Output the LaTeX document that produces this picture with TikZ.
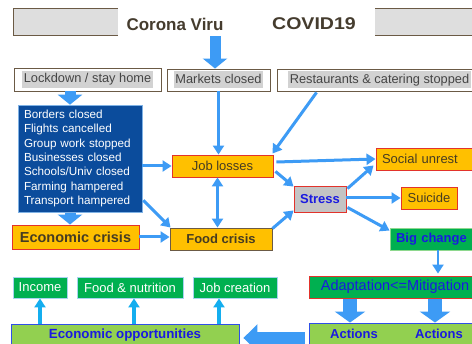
\documentclass[tikz,border=0pt]{standalone}
\usepackage{fontspec}
\setmainfont{Liberation Sans}
\usetikzlibrary{arrows.meta,calc}
\definecolor{arrowblue}{HTML}{3D9BF5}
\definecolor{upblue}{HTML}{14AEEF}
\definecolor{orangef}{HTML}{FFC000}
\definecolor{redb}{HTML}{E2332B}
\definecolor{brownb}{HTML}{6B5A45}
\definecolor{titlegray}{HTML}{DEDEDE}
\definecolor{hlgray}{HTML}{D2D2D2}
\definecolor{rowtxt}{HTML}{454545}
\definecolor{darktxt}{HTML}{463C22}
\definecolor{darkblue}{HTML}{0B4C9C}
\definecolor{blueedge}{HTML}{7FB2E5}
\definecolor{greenf}{HTML}{00B050}
\definecolor{greenedge}{HTML}{8ED88E}
\definecolor{lightgreen}{HTML}{92D050}
\definecolor{oppedge}{HTML}{2F4FE8}
\definecolor{txtblue}{HTML}{1A1AE0}
\definecolor{gboxedge}{HTML}{A7D3F0}
\definecolor{stressgray}{HTML}{C4C4C4}
\definecolor{titletxt}{HTML}{453C2E}
\newcommand{\myhl}[1]{{\setlength{\fboxsep}{1.5pt}\colorbox{hlgray}{\rule[-3.6pt]{0pt}{14pt}#1}}}
\tikzset{
  box/.style={draw, rectangle, inner sep=0pt, line width=0.9pt},
  rowbox/.style={box, draw=brownb, fill=white, text=rowtxt, font=\fontsize{12.8}{14}\selectfont},
  orbox/.style={box, draw=redb, fill=orangef, text=darktxt, font=\fontsize{13}{15}\selectfont},
  grbox/.style={box, draw=gboxedge, fill=greenf, text=white, font=\fontsize{13}{15}\selectfont},
  oppbox/.style={box, draw=oppedge, fill=lightgreen, text=txtblue, font=\bfseries\fontsize{13.3}{15}\selectfont},
  titletext/.style={text=titletxt, font=\bfseries\fontsize{17}{20}\selectfont},
  conn/.style={draw=arrowblue, line width=3pt, -{Triangle[length=9pt,width=11pt]}},
  connboth/.style={draw=arrowblue, line width=3pt, {Triangle[length=9pt,width=11pt]}-{Triangle[length=9pt,width=11pt]}},
  upconn/.style={draw=upblue, line width=3.2pt, -{Triangle[length=9pt,width=11pt]}},
  blockarr/.style={draw=arrowblue, line width=11pt, -{Triangle[length=10pt,width=24pt]}},
  bigblockarr/.style={draw=arrowblue, line width=14pt, -{Triangle[length=11pt,width=30pt]}},
}
\begin{document}
\begin{tikzpicture}[x=1pt,y=-1pt]
\useasboundingbox (0,0) rectangle (472,344);
\clip (0,0) rectangle (472,344);
\fill[white] (0,0) rectangle (472,344);

% title
\node[box, draw=brownb, fill=titlegray, minimum width=469pt, minimum height=27pt] (titlebox) at (247.5,21.5) {};
\node[fill=white, minimum width=257pt, minimum height=33pt, inner sep=0pt] (titlemask) at (246.5,21.5) {};
\node[titletext] (t1) at (175,24) {Corona Viru};
\node[titletext, xscale=1.15] (t2) at (314,24) {COVID19};

% row 2
\node[rowbox, minimum width=147pt, minimum height=23pt] (lock) at (87.5,79.5) {\myhl{Lockdown / stay home}};
\node[rowbox, minimum width=103pt, minimum height=22pt] (markets) at (218.5,80) {\myhl{Markets closed}};
\node[rowbox, minimum width=205pt, minimum height=22pt] (rest) at (379.5,80) {\myhl{Restaurants \& catering stopped}};

% blue block
\node[box, draw=blueedge, line width=0.6pt, fill=darkblue, text=white, minimum width=124pt, minimum height=107pt, text width=112pt, inner xsep=6pt, align=left, font=\fontsize{11.7}{14.3}\selectfont] (blue) at (80,158.5)
{Borders closed\\Flights cancelled\\Group work stopped\\Businesses closed\\Schools/Univ closed\\Farming hampered\\Transport hampered};

% crises
\node[orbox, font=\bfseries\fontsize{14.5}{16}\selectfont, minimum width=127pt, minimum height=24pt] (econ) at (75.5,237) {Economic crisis};
\node[orbox, draw=brownb, font=\bfseries\fontsize{13}{15}\selectfont, minimum width=102pt, minimum height=22pt] (food) at (221,239) {Food crisis};
\node[orbox, minimum width=101pt, minimum height=22pt] (jobloss) at (222.5,166) {Job losses};
\node[box, draw=redb, fill=stressgray, text=txtblue, font=\bfseries\fontsize{13}{15}\selectfont, minimum width=52pt, minimum height=26pt] (stress) at (320,199) {Stress};
\node[orbox, minimum width=106pt, minimum height=22pt, text width=94pt, inner xsep=6pt, align=left] (social) at (429,159) {Social unrest};
\node[orbox, minimum width=56pt, minimum height=22pt] (suicide) at (429,198) {Suicide};
\node[box, draw=greenedge, fill=greenf, text=txtblue, font=\bfseries\fontsize{13}{15}\selectfont, minimum width=92pt, minimum height=22pt, text width=80pt, inner xsep=6pt, align=left] (big) at (436,239) {Big change};

% adaptation and actions
\node[box, draw=redb, fill=greenf, text=txtblue, font=\fontsize{14.5}{16}\selectfont, minimum width=172pt, minimum height=22pt] (adapt) at (395,287) {Adaptation<=Mitigation};
\node[oppbox, minimum width=173pt, minimum height=27pt] (actions) at (395.5,336.5) {};
\node[text=txtblue, font=\bfseries\fontsize{13}{15}\selectfont] (act1) at (354,334) {Actions};
\node[text=txtblue, font=\bfseries\fontsize{13}{15}\selectfont] (act2) at (439,334) {Actions};

% opportunities
\node[oppbox, minimum width=228pt, minimum height=26pt] (econopp) at (125,337) {};
\node[text=txtblue, font=\bfseries\fontsize{13.3}{15}\selectfont] (opptxt) at (125,335) {Economic opportunities};
\node[grbox, minimum width=54pt, minimum height=21pt] (income) at (40,287.5) {Income};
\node[grbox, minimum width=106pt, minimum height=21pt] (foodn) at (130,287.5) {Food \& nutrition};
\node[grbox, minimum width=84pt, minimum height=21pt] (jobc) at (235,287.5) {Job creation};

% block arrows
\coordinate (bx) at (70,0);
\coordinate (ax1) at (350,0);
\coordinate (ax2) at (435,0);
\coordinate (tx) at (215,0);
\draw[blockarr] ($(titlebox.south -| tx)+(0,1)$) -- (markets.north -| tx);
\draw[blockarr] (lock.south -| bx) -- (blue.north -| bx);
\draw[blockarr] ($(blue.south -| bx)+(0,1)$) -- (econ.north -| bx);
\draw[bigblockarr] ($(adapt.south -| ax1)+(0,1)$) -- (actions.north -| ax1);
\draw[bigblockarr] ($(adapt.south -| ax2)+(0,1)$) -- (actions.north -| ax2);
\coordinate (ay) at (0,338);
\draw[draw=arrowblue, line width=12pt, -{Triangle[length=14pt,width=27pt]}] ($(actions.west |- ay)+(-4,0)$) -- ($(econopp.east |- ay)+(4,0)$);

% connectors
\draw[conn] (markets.south) -- (markets.south |- jobloss.north);
\draw[conn] ($(rest.south west)+(40,1)$) -- ($(jobloss.north east)+(-1,-1)$);
\draw[conn] (blue.east |- jobloss) -- (jobloss.west);
\draw[conn] ($(blue.south east)+(1,-12)$) -- ($(food.north west)+(1,0)$);
\draw[conn] (econ.east) -- (econ.east -| food.west);
\draw[connboth] ($(jobloss.south)+(-5,0)$) -- ($(jobloss.south |- food.north)+(-5,0)$);
\draw[conn] ($(jobloss.south east)+(2,-6)$) -- ($(stress.north west)+(0,1)$);
\draw[conn] ($(food.north east)+(0,1)$) -- ($(stress.south west)+(0,-2)$);
\draw[conn] ($(jobloss.east)+(3,-4)$) -- (social.west);
\draw[conn] ($(stress.north east)+(1,3)$) -- ($(social.south west)+(-2,-5)$);
\draw[conn] (stress.east |- suicide) -- (suicide.west);
\draw[conn] ($(stress.south east)+(1,-5)$) -- ($(big.north west)+(0,3)$);
\draw[conn, line width=2.4pt, shorten >=2pt] ($(big.south)+(2,0)$) -- ($(big.south |- adapt.north)+(2,0)$);

% up arrows
\draw[upconn] (econopp.north -| income.south) -- (income.south);
\draw[upconn] ($(econopp.north -| foodn.south)+(4,0)$) -- ($(foodn.south)+(4,0)$);
\draw[upconn] ($(econopp.north -| jobc.south)+(-16,0)$) -- ($(jobc.south)+(-16,0)$);
\end{tikzpicture}
\end{document}
